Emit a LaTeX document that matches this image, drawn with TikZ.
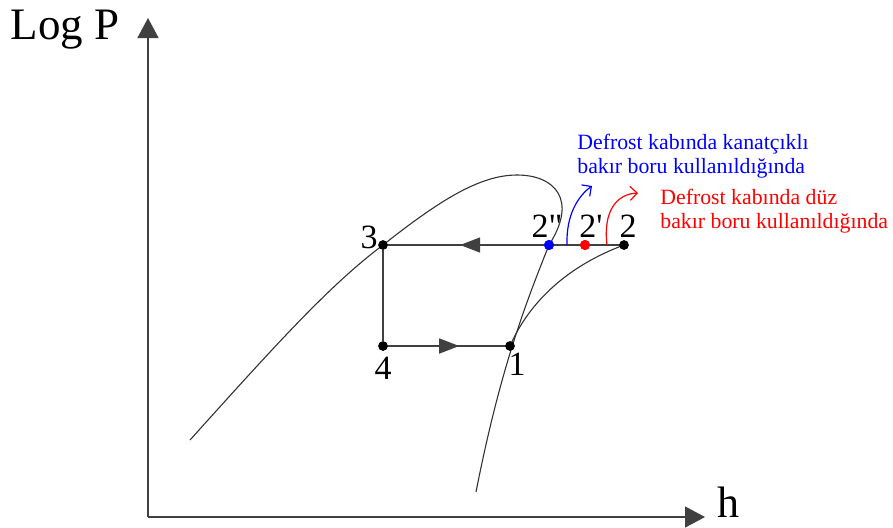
\documentclass[tikz,border=0pt]{standalone}
\usepackage{fontspec}
\setmainfont{Liberation Serif}
\usepackage{tikz}
\usetikzlibrary{arrows.meta,positioning,decorations.markings}
\definecolor{ink}{HTML}{404040}
\tikzset{midarrow/.style={postaction={decorate},decoration={markings,
      mark=at position #1 with {\arrow{Triangle[length=10pt,width=7.5pt]}}}}}

\begin{document}
\begin{tikzpicture}[x=0.5pt,y=-0.5pt,>=Latex]
  \tikzstyle{axis}=[draw=ink,line width=0.8pt,-{Triangle[length=10pt,width=10.5pt]}]
  \tikzstyle{cycle}=[draw=ink,line width=0.75pt]
  \tikzstyle{curve}=[draw=black!80,line width=0.55pt]
  \tikzstyle{dot}=[circle,fill=black,inner sep=0pt,minimum size=4.6pt]
  \tikzstyle{lbl}=[inner sep=0pt,font=\fontsize{17}{17}\selectfont]
  \tikzstyle{note}=[inner sep=0pt,align=left,font=\fontsize{10.9}{11.9}\selectfont]
  \tikzstyle{drift}=[line width=0.6pt,-{Straight Barb[length=3.5pt,width=7pt]}]
  \useasboundingbox (0,0) rectangle (893,527);
  % axes
  \coordinate (origin) at (148,517);
  \coordinate (ytop) at (148,18);
  \coordinate (xend) at (705,517);
  \draw[axis] (origin) -- (ytop);
  \draw[axis] (origin) -- (xend);
  \node[inner sep=0pt,font=\fontsize{22.5}{22.5}\selectfont] (logp) at (65,30) {Log P};
  \node[inner sep=0pt,font=\fontsize{22}{22}\selectfont,right=6pt of xend,yshift=7.5pt] (haxis) {h};
  % cycle points
  \node[dot] (p3) at (383,245) {};
  \node[dot] (p4) at (383,346) {};
  \node[dot] (p1) at (510,346) {};
  \node[dot] (p2) at (624,245) {};
  \node[dot,fill=blue,minimum size=5pt] (p2b) at (549,245) {};
  \node[dot,fill=red,minimum size=5pt] (p2a) at (585,245) {};
  % saturation dome
  \draw[curve] (190,440) .. controls (280,340) and (330,285) .. (p3.center)
    .. controls (440,200) and (480,175) .. (517,175)
    .. controls (555,175) and (578,200) .. (p2b.center)
    .. controls (525,305) and (500,370) .. (476,492);
  % compression
  \draw[curve] (p1.center) .. controls (530,300) and (570,265) .. (p2.center);
  % cycle lines
  \draw[cycle,midarrow=0.68] (p2.center) -- (p3.center);
  \draw[cycle] (p3) -- (p4);
  \draw[cycle,midarrow=0.6] (p4.center) -- (p1.center);
  % redraw points on top
  \foreach \p in {p3,p4,p1,p2} \fill (\p) circle (2.4pt);
  \fill[blue] (p2b) circle (2.5pt);
  \fill[red] (p2a) circle (2.5pt);
  % labels
  \node[lbl,left=0pt of p3,yshift=4pt] (l3) {3};
  \node[lbl,below=3pt of p4] (l4) {4};
  \node[lbl,below=1pt of p1,xshift=3.5pt] (l1) {1};
  \node[lbl,above=1pt of p2b,xshift=-1pt] (l2b) {2\textquotedbl};
  \node[lbl,above=1pt of p2a,xshift=3pt] (l2a) {2\textquotesingle};
  \node[lbl,above=1pt of p2,xshift=2pt] (l2) {2};
  % defrost notes
  \coordinate (bstart) at (567,245);
  \coordinate (bend) at (592,186);
  \coordinate (rstart) at (607,245);
  \coordinate (rend) at (638,193);
  \draw[drift,blue] (bstart) .. controls (566,215) and (578,196) .. (bend);
  \draw[drift,red] (rstart) .. controls (603,212) and (616,194) .. (rend);
  \node[note,text=blue,anchor=north west] (finned) at (577,134)
    {Defrost kabında kanatçıklı\\bakır boru kullanıldığında};
  \node[note,text=red,anchor=north west] (plain) at (660,189)
    {Defrost kabında düz\\bakır boru kullanıldığında};
\end{tikzpicture}
\end{document}
